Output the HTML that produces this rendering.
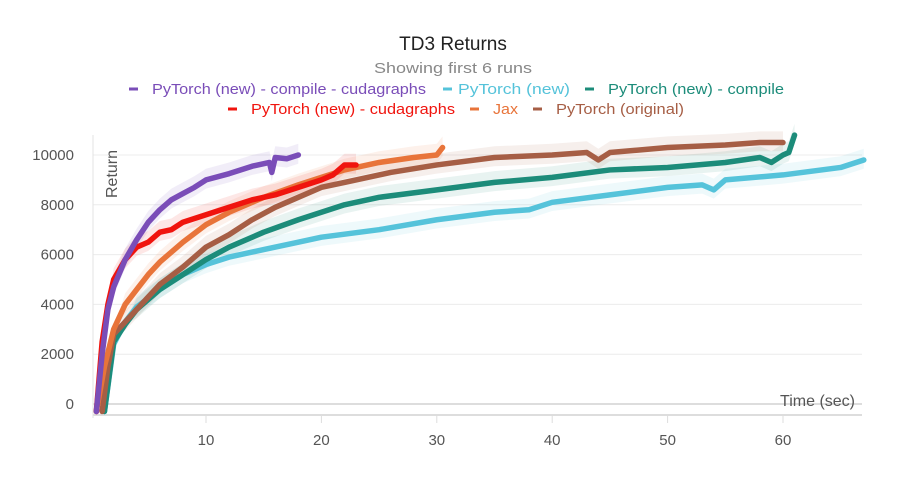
<!DOCTYPE html>
<html><head><meta charset="utf-8"><style>
html,body{margin:0;padding:0;background:#fff;}
svg{display:block;font-family:"Liberation Sans",sans-serif;}
</style></head><body>
<svg id="chart" width="907" height="477" viewBox="0 0 907 477">
<text x="453" y="50" text-anchor="middle" font-size="19" fill="#222">TD3 Returns</text>
<text x="453" y="73" text-anchor="middle" font-size="15" fill="#888" textLength="158" lengthAdjust="spacingAndGlyphs">Showing first 6 runs</text>
<g id="legend"></g>
<g id="grid"></g>
<g id="bands"></g>
<g id="lines"></g>
<text transform="translate(117,198) rotate(-90)" font-size="16" fill="#555">Return</text>
<text x="855" y="406" text-anchor="end" font-size="16" fill="#555">Time (sec)</text>
</svg>
<script>
const xTicks=[10,20,30,40,50,60];
const yTicks=[0,2000,4000,6000,8000,10000];
const seriesNames=["PyTorch (new) - compile - cudagraphs","PyTorch (new)","PyTorch (new) - compile","PyTorch (new) - cudagraphs","Jax","PyTorch (original)"];
const seriesColors=["#7a4db8","#55c3da","#1c8c7a","#f0140e","#e8743a","#a65e45"];
const purpleT=[0.5,1,1.5,2,3,4,5,6,7,8,9,10,12,14,15.5,15.7,16,17,18];
const purpleV=[-300,2000,3800,4700,5800,6600,7300,7800,8200,8450,8700,9000,9250,9550,9700,9300,9900,9850,10000];
const blueT=[1.2,2,3,4,6,8,10,12,15,18,20,25,30,35,38,40,45,50,53,54,55,60,65,67];
const blueV=[-300,2400,3300,3900,4600,5200,5600,5900,6200,6500,6700,7000,7400,7700,7800,8100,8400,8700,8800,8600,9000,9200,9500,9800];
const tealT=[1.2,2,3,4,6,8,10,12,15,18,20,22,25,30,35,40,45,50,55,58,59,60,60.5,61];
const tealV=[-300,2500,3200,3800,4600,5200,5800,6300,6900,7400,7700,8000,8300,8600,8900,9100,9400,9500,9700,9900,9700,10000,10100,10800];
const redT=[0.5,1,1.5,2,3,4,5,6,7,8,10,12,14,16,18,20,21,22,23];
const redV=[-300,2500,4000,5000,5800,6300,6500,6900,7000,7300,7600,7900,8200,8400,8700,9000,9200,9600,9600];
const jaxT=[0.5,1.2,2,3,4,5,6,8,10,12,15,18,20,22,25,28,30,30.5];
const jaxV=[-300,1500,3000,4000,4600,5200,5700,6500,7200,7700,8300,8800,9100,9400,9700,9900,10000,10300];
const origT=[1,1.5,2,3,4,5,6,8,10,12,14,16,18,20,22,24,26,30,35,40,43,44,45,50,55,58,60];
const origV=[-300,1500,2800,3300,3800,4300,4800,5500,6300,6800,7400,7900,8300,8700,8900,9100,9300,9600,9900,10000,10100,9800,10100,10300,10400,10500,10500];
const allT=[purpleT,blueT,tealT,redT,jaxT,origT];
const allV=[purpleV,blueV,tealV,redV,jaxV,origV];
const ns="http://www.w3.org/2000/svg";
const X=t=>90.6+t*11.54;
const Y=v=>404-v*0.0249;
function mk(tag,parent,attrs){const e=document.createElementNS(ns,tag);for(const k in attrs)e.setAttribute(k,attrs[k]);parent.appendChild(e);return e;}
const grid=document.getElementById('grid');
yTicks.forEach(v=>{
  const l=mk('line',grid,{x1:93,x2:862,y1:Y(v),y2:Y(v),stroke:v===0?'#ddd':'#ececec','stroke-width':v===0?2:1});
  
  
  const t=mk('text',grid,{x:74,y:Y(v)+5,'text-anchor':'end','font-size':15,fill:'#555'});
  t.textContent=v;
  
  
});
const ax=mk('line',grid,{x1:93,x2:862,y1:415,y2:415,stroke:'#ddd','stroke-width':2});


const ay=mk('line',grid,{x1:93,x2:93,y1:135,y2:418,stroke:'#e3e3e3','stroke-width':1});


xTicks.forEach(v=>{
  const l=mk('line',grid,{x1:X(v),x2:X(v),y1:415,y2:423,stroke:'#ddd','stroke-width':1});
  
  
  const t=mk('text',grid,{x:X(v),y:445,'text-anchor':'middle','font-size':15,fill:'#555'});
  t.textContent=v;
  
  
});
const bands=document.getElementById('bands'),lines=document.getElementById('lines');
const order=[1,2,5,4,3,0];
order.forEach(i=>{
  const T=allT[i],V=allV[i];
  const up=T.map((t,k)=>X(t)+','+Y(V[k]+(k>2?450:0))).join(' ');
  const dn=T.map((t,k)=>X(t)+','+Y(V[k]-(k>2?350:0))).reverse().join(' ');
  const b=mk('polygon',bands,{points:up+' '+dn,fill:seriesColors[i],'fill-opacity':0.1});
  
  
  const p=mk('polyline',lines,{points:T.map((t,k)=>X(t)+','+Y(V[k])).join(' '),fill:'none',stroke:seriesColors[i],'stroke-width':5.5,'stroke-linejoin':'round','stroke-linecap':'round'});
  
  
});
const legend=document.getElementById('legend');
const legPos=[[129,152,274,94],[443,458,112,94],[585,608,176,94],[228,251,204,114],[470,493,25,114],[533,556,128,114]];
legPos.forEach((p,i)=>{
  const g=mk('g',legend,{});
  
  
  mk('line',g,{x1:p[0],x2:p[0]+9,y1:p[3]-5,y2:p[3]-5,stroke:seriesColors[i],'stroke-width':3});
  const t=mk('text',g,{x:p[1],y:p[3],'font-size':15,fill:seriesColors[i],textLength:p[2],lengthAdjust:'spacingAndGlyphs'});
  t.textContent=seriesNames[i];
});
</script>
</body></html>
